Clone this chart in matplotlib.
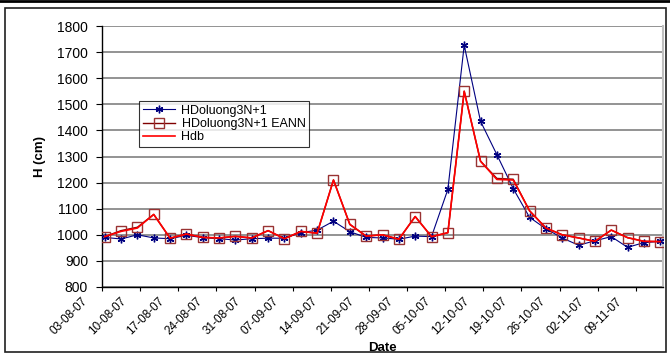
import matplotlib
matplotlib.use("Agg")
import matplotlib.pyplot as plt
import matplotlib.dates as mdates
from matplotlib.transforms import ScaledTranslation
from matplotlib.patches import Rectangle
from matplotlib.lines import Line2D
import numpy as np
import pandas as pd

plt.rcParams['font.family'] = ['Liberation Sans', 'DejaVu Sans']

# one reading every 3 days, 03-08-07 .. 13-11-07
dates = pd.date_range('2007-08-03', periods=35, freq='3D')

h_doluong = [990, 984, 1000, 988, 985, 998, 989, 985, 980, 985,
             987, 987, 1008, 1018, 1052, 1012, 990, 988, 983, 995,
             993, 1174, 1726, 1435, 1307, 1177, 1067, 1023, 988, 960,
             977, 993, 952, 970, 975]
h_eann = [993, 1016, 1029, 1078, 987, 1003, 990, 988, 994, 988,
          1016, 985, 1013, 1006, 1210, 1040, 995, 1000, 983, 1070,
          993, 1008, 1550, 1282, 1216, 1213, 1092, 1026, 1000, 988,
          975, 1018, 989, 975, 974]
h_db = [993, 1013, 1026, 1078, 987, 1003, 990, 988, 994, 988,
        1016, 985, 1013, 1006, 1210, 1040, 995, 1000, 983, 1070,
        993, 1008, 1550, 1282, 1212, 1210, 1092, 1026, 1000, 988,
        975, 1018, 989, 975, 974]

tick_labels = ['03-08-07', '10-08-07', '17-08-07', '24-08-07', '31-08-07',
               '07-09-07', '14-09-07', '21-09-07', '28-09-07', '05-10-07',
               '12-10-07', '19-10-07', '26-10-07', '02-11-07', '09-11-07']

fig = plt.figure(figsize=(6.7, 3.54), dpi=100)
ax = fig.add_axes([102 / 670, 67 / 354, 561 / 670, 261 / 354])

# chart area frame + top rule
fig.patches.append(Rectangle((5 / 670, 2 / 354), 661 / 670, 344 / 354,
                             transform=fig.transFigure, fill=False,
                             edgecolor='#202020', linewidth=1.2))
fig.add_artist(Line2D([0, 1], [1 - 1 / 354, 1 - 1 / 354],
                      transform=fig.transFigure, color='black', linewidth=2))

x = mdates.date2num(dates)

ax.plot(x, h_doluong, color='#000080', linewidth=0.8,
        marker=(6, 2, 0), markersize=5.5, markeredgecolor='#000080',
        markeredgewidth=1.0, label='HDoluong3N+1', zorder=3)
ax.plot(x, h_eann, color='#800000', linewidth=1.0,
        marker='s', markersize=7, markerfacecolor='none',
        markeredgecolor='#993333', markeredgewidth=1.0,
        label='HDoluong3N+1 EANN', zorder=4)
ax.plot(x, h_db, color='#ff0000', linewidth=1.2, label='Hdb', zorder=5)

ax.set_ylim(800, 1800)
ax.set_yticks(np.arange(800, 1801, 100))
ax.set_xlim(x[0] - 0.5, x[-1] + 0.5)
tick_pos = x[0] - 0.5 + 7 * np.arange(len(tick_labels))
ax.set_xticks(tick_pos, tick_labels)

ax.grid(axis='y', color='#808080', linewidth=1.2)
ax.set_axisbelow(True)
ax.spines['top'].set_visible(False)
ax.spines['right'].set_color('#c0c0c0')
ax.spines['right'].set_linewidth(1.5)
ax.spines['left'].set_linewidth(1.0)
ax.spines['bottom'].set_linewidth(1.0)

ax.tick_params(axis='y', labelsize=10, length=4, width=0.8, pad=6)
ax.tick_params(axis='x', labelsize=8.5, length=3, width=0.8, pad=3)

offset = ScaledTranslation(-20 / 100, 0, fig.dpi_scale_trans)
for lab in ax.get_xticklabels():
    lab.set_rotation(45)
    lab.set_ha('right')
    lab.set_va('top')
    lab.set_rotation_mode('anchor')
    lab.set_transform(lab.get_transform() + offset)

ax.set_xlabel('Date', fontsize=9.5, fontweight='bold', labelpad=3)
ax.set_ylabel('H (cm)', fontsize=9.5, fontweight='bold', labelpad=8)

leg = ax.legend(loc='upper left', bbox_to_anchor=(37 / 561, 186 / 261),
                borderaxespad=0, fontsize=9, frameon=True, fancybox=False,
                handlelength=2.6, handletextpad=0.5, borderpad=0.3,
                labelspacing=0.1)
leg.get_frame().set_edgecolor('black')
leg.get_frame().set_linewidth(0.8)

fig.savefig('out.png', dpi=100)
